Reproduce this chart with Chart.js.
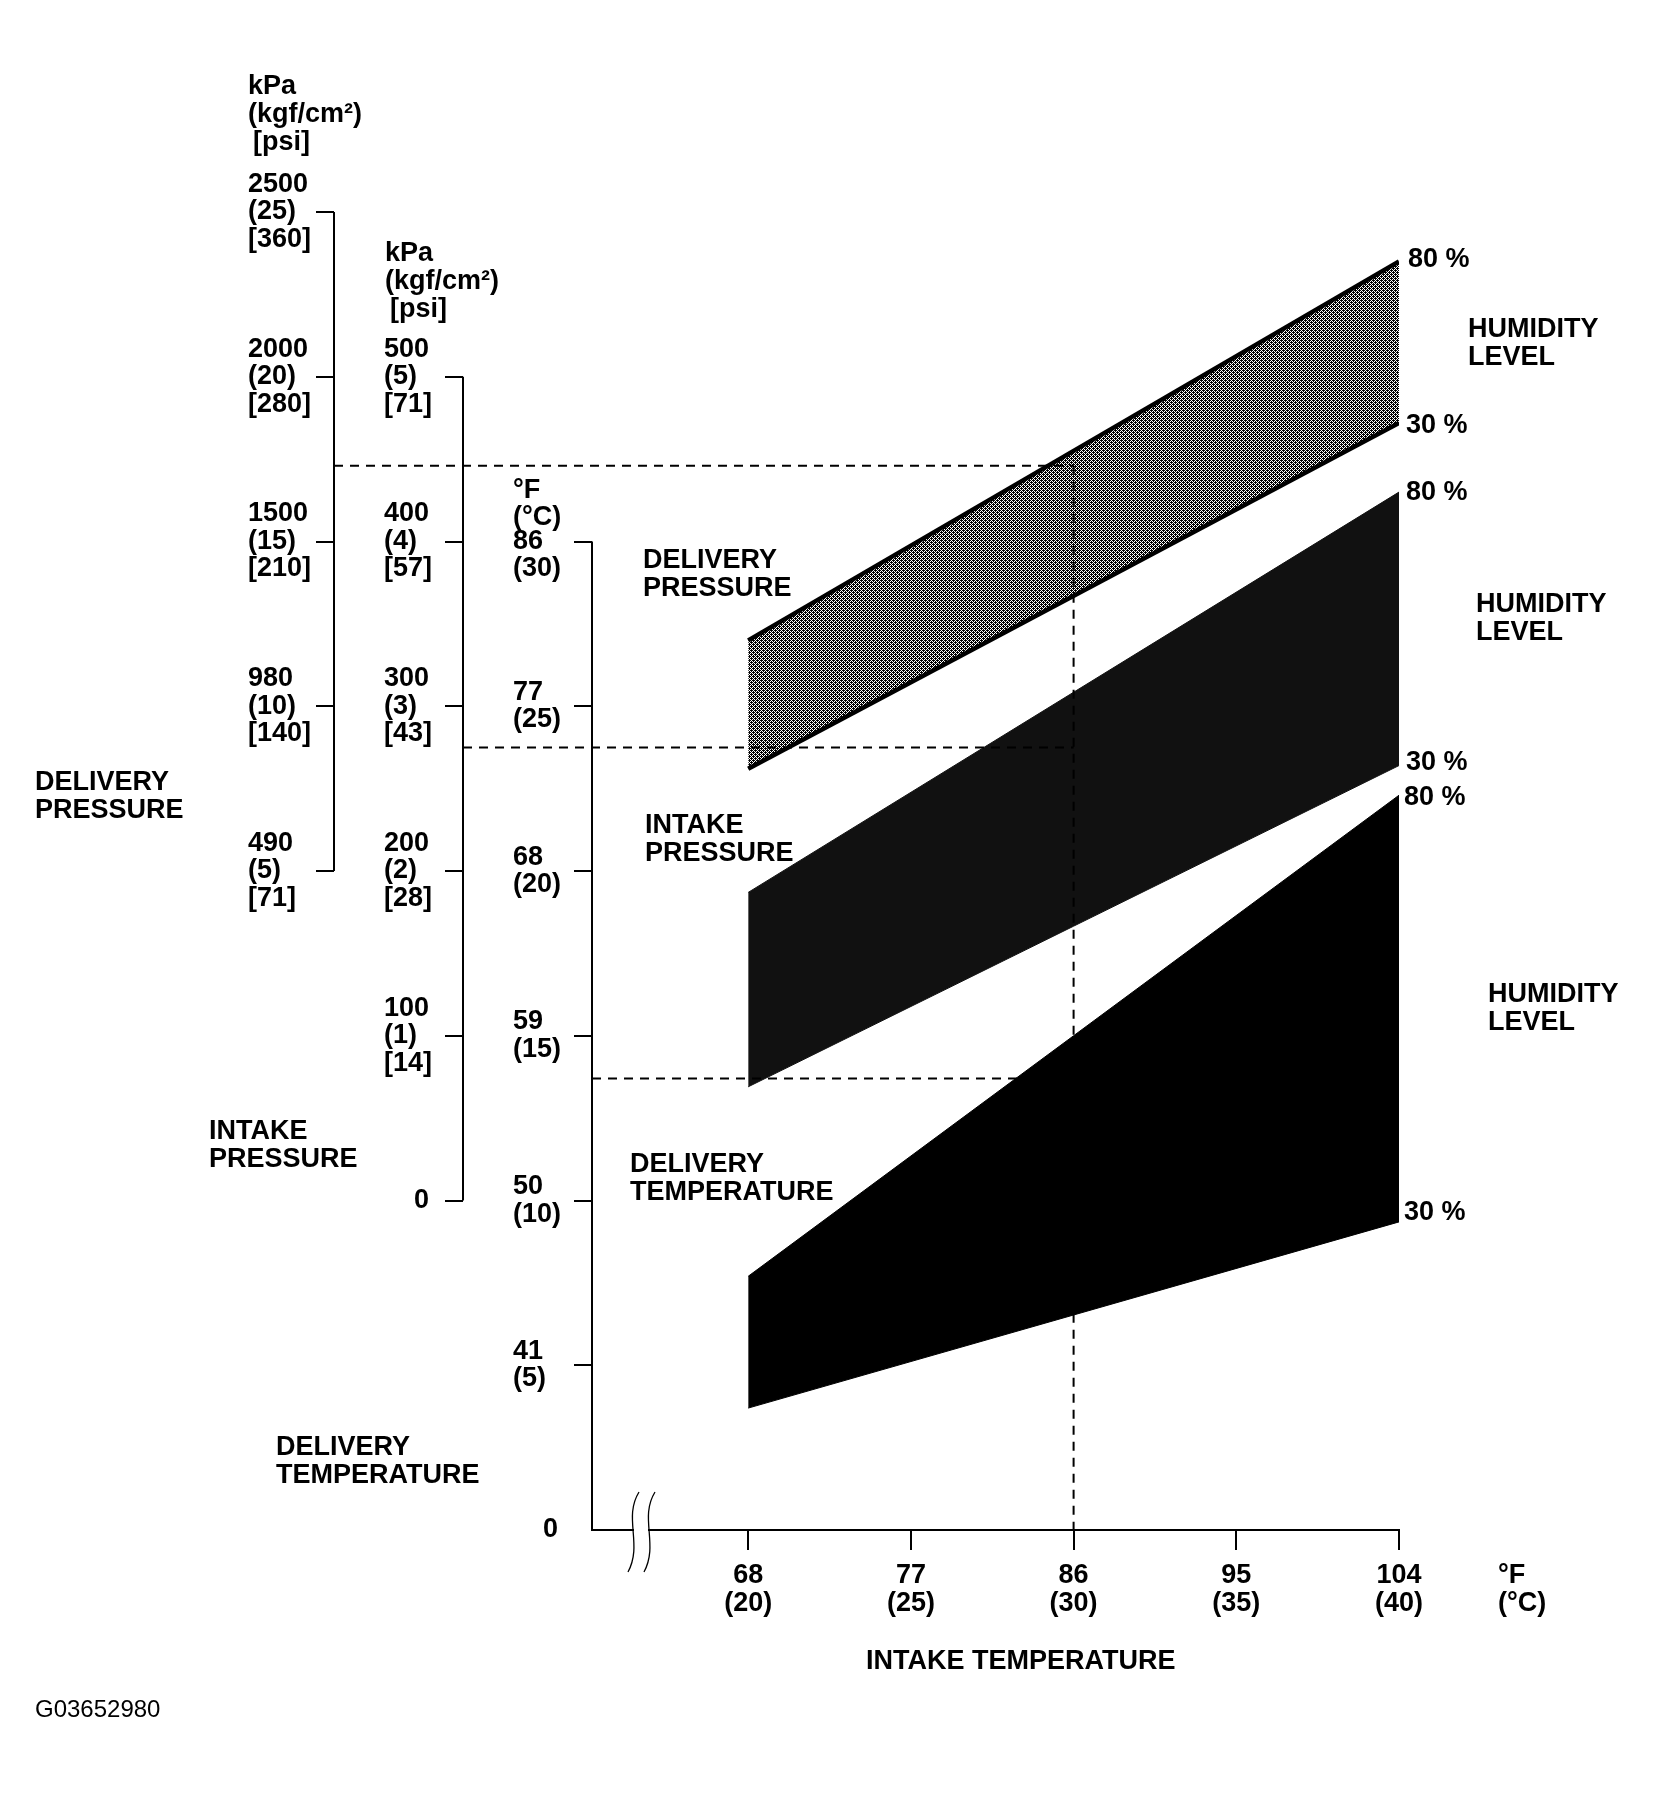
<!DOCTYPE html>
<html>
<head>
<meta charset="utf-8">
<title>Delivery pressure / intake pressure / delivery temperature vs intake temperature</title>
<script src="https://cdn.jsdelivr.net/npm/chart.js@4.4.1/dist/chart.umd.min.js"></script>
<style>
  html, body { margin: 0; padding: 0; background: #fff; }
  canvas { display: block; }
</style>
</head>
<body>
<canvas id="chart" width="1664" height="1793"></canvas>
<script>
// intake temperature (°C) where the bands start and end
const bandTempsC = [20, 40];

// delivery pressure band, kgf/cm2 (axis is also labelled in kPa and psi)
const deliveryPressure80 = [12.0, 23.5];
const deliveryPressure30 = [8.1, 18.6];

// intake pressure band, kPa
const intakePressure80 = [187, 430];
const intakePressure30 = [69, 264];

// delivery temperature band, °C
const deliveryTemp80 = [7.7, 22.3];
const deliveryTemp30 = [3.7, 9.35];

// example reading shown with dashed lines
const exampleIntakeTempC = 30;
const exampleDeliveryPressure = 17.3; // kgf/cm2
const exampleIntakePressure = 275;    // kPa
const exampleDeliveryTempC = 13.7;

// x axis: intake temperature
const intakeTempC = [20, 25, 30, 35, 40];
const intakeTempF = ['68', '77', '86', '95', '104'];

// delivery pressure axis
const deliveryTickKgf = [5, 10, 15, 20, 25];
const deliveryTickKpa = ['490', '980', '1500', '2000', '2500'];
const deliveryTickPsi = ['71', '140', '210', '280', '360'];

// intake pressure axis
const intakeTickKpa = [0, 100, 200, 300, 400, 500];
const intakeTickKgf = ['0', '1', '2', '3', '4', '5'];
const intakeTickPsi = ['0', '14', '28', '43', '57', '71'];

// delivery temperature axis
const tempTickC = [0, 5, 10, 15, 20, 25, 30];
const tempTickF = ['0', '41', '50', '59', '68', '77', '86'];

const FONT = '"Liberation Sans", Arial, Helvetica, sans-serif';
const tickFont = { family: FONT, size: 27, weight: 'bold', lineHeight: 1.02 };

// halftone grey like the printed band
function stipple() {
  const c = document.createElement('canvas');
  c.width = 4; c.height = 4;
  const g = c.getContext('2d');
  g.fillStyle = '#fff';
  g.fillRect(0, 0, 4, 4);
  g.fillStyle = '#000';
  for (let y = 0; y < 4; y++) {
    for (let x = 0; x < 4; x++) {
      if ((x + y) % 2 === 0) g.fillRect(x, y, 1, 1);
    }
  }
  g.fillRect(1, 0, 1, 1);
  g.fillRect(3, 2, 1, 1);
  return g.createPattern(c, 'repeat');
}

function pts(vals) {
  return bandTempsC.map((x, i) => ({ x: x, y: vals[i] }));
}

function leftAxis(weight, width, min, max, tickVals, labelFn, extra) {
  return Object.assign({
    type: 'linear',
    position: 'left',
    weight: weight,
    min: min,
    max: max,
    afterBuildTicks: s => { s.ticks = tickVals.map(v => ({ value: v })); },
    afterFit: s => { s.width = width; },
    border: { display: false },
    grid: { drawOnChartArea: false, drawTicks: true, tickLength: 18, lineWidth: 2, color: '#000' },
    ticks: { crossAlign: 'far', autoSkip: false, color: '#000', font: tickFont, callback: labelFn }
  }, extra || {});
}

function spacer(weight, width) {
  return {
    type: 'linear', position: 'left', weight: weight, min: 0, max: 1,
    afterFit: s => { s.width = width; },
    border: { display: false },
    grid: { display: false },
    ticks: { display: false }
  };
}

function textLines(ctx, arr, x, y, lh) {
  arr.forEach((t, i) => ctx.fillText(t, x, y + i * lh));
}

const extras = {
  id: 'extras',
  afterDatasetsDraw(chart) {
    const { ctx, chartArea, scales } = chart;
    const xr = scales.x.getPixelForValue(exampleIntakeTempC);
    const y1 = scales.yDel.getPixelForValue(exampleDeliveryPressure);
    const y2 = scales.yIn.getPixelForValue(exampleIntakePressure);
    const y3 = scales.yT.getPixelForValue(exampleDeliveryTempC);
    ctx.save();
    ctx.strokeStyle = '#000';
    ctx.lineWidth = 2;
    ctx.setLineDash([9, 7]);
    ctx.beginPath();
    ctx.moveTo(scales.yDel.right, y1); ctx.lineTo(xr, y1);
    ctx.moveTo(scales.yIn.right, y2); ctx.lineTo(xr, y2);
    ctx.moveTo(scales.yT.right, y3); ctx.lineTo(xr, y3);
    ctx.moveTo(xr, y1); ctx.lineTo(xr, chartArea.bottom);
    ctx.stroke();
    ctx.restore();
  },
  afterDraw(chart) {
    const { ctx, chartArea, scales } = chart;
    const x = scales.x, yDel = scales.yDel, yIn = scales.yIn, yT = scales.yT;
    ctx.save();

    // axis spines only between first and last tick
    ctx.strokeStyle = '#000';
    ctx.lineWidth = 2;
    ctx.beginPath();
    ctx.moveTo(yDel.right, yDel.getPixelForValue(25));
    ctx.lineTo(yDel.right, yDel.getPixelForValue(5));
    ctx.moveTo(yIn.right, yIn.getPixelForValue(500));
    ctx.lineTo(yIn.right, yIn.getPixelForValue(0));
    ctx.moveTo(yT.right, yT.getPixelForValue(30));
    ctx.lineTo(yT.right, chartArea.bottom + 1);
    ctx.stroke();

    // axis break on the x axis
    const bx = chartArea.left + 49, by = chartArea.bottom;
    ctx.fillStyle = '#fff';
    ctx.fillRect(bx - 7, by - 3, 14, 6);
    ctx.lineWidth = 1.3;
    [bx - 8, bx + 8].forEach(cx => {
      ctx.beginPath();
      ctx.moveTo(cx + 6, by - 38);
      ctx.bezierCurveTo(cx - 10, by - 12, cx + 10, by + 14, cx - 5, by + 42);
      ctx.stroke();
    });

    // texts
    ctx.fillStyle = '#000';
    ctx.textBaseline = 'middle';
    ctx.textAlign = 'left';
    ctx.font = 'bold 27px ' + FONT;
    const lh = 27.5;

    const topDel = yDel.getPixelForValue(25);
    textLines(ctx, ['kPa', '(kgf/cm²)'], yDel.left, topDel - 125, lh);
    ctx.fillText('[psi]', yDel.left + 5, topDel - 69);
    const topIn = yIn.getPixelForValue(500);
    textLines(ctx, ['kPa', '(kgf/cm²)'], yIn.left + 1, topIn - 123, lh);
    ctx.fillText('[psi]', yIn.left + 6, topIn - 67);
    const topT = yT.getPixelForValue(30);
    textLines(ctx, ['°F', '(°C)'], yT.left, topT - 51, lh);

    textLines(ctx, ['DELIVERY', 'PRESSURE'], 35, 783, lh);
    textLines(ctx, ['INTAKE', 'PRESSURE'], 209, 1132, lh);
    textLines(ctx, ['DELIVERY', 'TEMPERATURE'], 276, 1448, lh);

    textLines(ctx, ['DELIVERY', 'PRESSURE'], 643, 561, lh);
    textLines(ctx, ['INTAKE', 'PRESSURE'], 645, 826, lh);
    textLines(ctx, ['DELIVERY', 'TEMPERATURE'], 630, 1165, lh);

    const rx = x.getPixelForValue(40) + 9;
    ctx.fillText('80 %', rx, yDel.getPixelForValue(deliveryPressure80[1]) - 2);
    ctx.fillText('30 %', rx - 2, yDel.getPixelForValue(deliveryPressure30[1]) + 3);
    ctx.fillText('80 %', rx - 2, yIn.getPixelForValue(intakePressure80[1]));
    ctx.fillText('30 %', rx - 2, yIn.getPixelForValue(intakePressure30[1]) - 3);
    ctx.fillText('80 %', rx - 4, yT.getPixelForValue(deliveryTemp80[1]) + 2);
    ctx.fillText('30 %', rx - 4, yT.getPixelForValue(deliveryTemp30[1]) - 9);

    textLines(ctx, ['HUMIDITY', 'LEVEL'], 1468, 330, lh);
    textLines(ctx, ['HUMIDITY', 'LEVEL'], 1476, 605, lh);
    textLines(ctx, ['HUMIDITY', 'LEVEL'], 1488, 995, lh);

    textLines(ctx, ['°F', '(°C)'], 1498, 1576, lh);
    ctx.fillText('INTAKE TEMPERATURE', 866, 1662);

    ctx.font = '24px ' + FONT;
    ctx.fillText('G03652980', 35, 1710);
    ctx.restore();
  }
};

const grey = stipple();

// order: fills (order 1) are drawn first, the 30 % edge lines (order 0) on top
new Chart(document.getElementById('chart'), {
  type: 'line',
  data: {
    datasets: [
      { label: 'Delivery pressure 80 %', yAxisID: 'yDel', data: pts(deliveryPressure80), order: 1,
        borderColor: '#000', borderWidth: 4.5, backgroundColor: grey, fill: '+1' },
      { label: 'Delivery pressure 30 %', yAxisID: 'yDel', data: pts(deliveryPressure30), order: 0,
        borderColor: '#000', borderWidth: 4.5, fill: false },
      { label: 'Intake pressure 80 %', yAxisID: 'yIn', data: pts(intakePressure80), order: 1,
        borderColor: '#111', borderWidth: 1, backgroundColor: '#111', fill: '+1' },
      { label: 'Intake pressure 30 %', yAxisID: 'yIn', data: pts(intakePressure30), order: 0,
        borderColor: '#111', borderWidth: 1, fill: false },
      { label: 'Delivery temperature 80 %', yAxisID: 'yT', data: pts(deliveryTemp80), order: 1,
        borderColor: '#000', borderWidth: 1, backgroundColor: '#000', fill: '+1' },
      { label: 'Delivery temperature 30 %', yAxisID: 'yT', data: pts(deliveryTemp30), order: 0,
        borderColor: '#000', borderWidth: 1, fill: false }
    ]
  },
  options: {
    responsive: false,
    animation: false,
    devicePixelRatio: 1,
    events: [],
    elements: { point: { radius: 0 }, line: { tension: 0 } },
    layout: { padding: { left: 248, right: 265, top: 212, bottom: 163 } },
    plugins: { legend: { display: false }, tooltip: { enabled: false } },
    scales: {
      x: {
        type: 'linear',
        position: 'bottom',
        min: 15.2,
        max: 40,
        afterBuildTicks: s => { s.ticks = intakeTempC.map(v => ({ value: v })); },
        afterFit: s => { s.height = 100; },
        border: { display: true, color: '#000', width: 2 },
        grid: { drawOnChartArea: false, drawTicks: true, tickLength: 20, lineWidth: 2, color: '#000' },
        ticks: {
          padding: 12, autoSkip: false, maxRotation: 0, color: '#000', font: tickFont,
          callback: v => [intakeTempF[intakeTempC.indexOf(v)], '(' + v + ')']
        }
      },
      yDel: leftAxis(4, 86, -15, 25, deliveryTickKgf, v => {
        const i = deliveryTickKgf.indexOf(v);
        return [deliveryTickKpa[i], '(' + v + ')', '[' + deliveryTickPsi[i] + ']'];
      }),
      sp1: spacer(3, 50),
      yIn: leftAxis(2, 79, -200, 600, intakeTickKpa, v => {
        const i = intakeTickKpa.indexOf(v);
        if (v === 0) return '    0';
        return [String(v), '(' + intakeTickKgf[i] + ')', '[' + intakeTickPsi[i] + ']'];
      }),
      sp2: spacer(1, 50),
      yT: leftAxis(0, 79, 0, 40, tempTickC, v => {
        const i = tempTickC.indexOf(v);
        if (v === 0) return '    0';
        if (v === 30) return ['', tempTickF[i], '(' + v + ')'];
        return [tempTickF[i], '(' + v + ')'];
      }, {
        grid: {
          drawOnChartArea: false, drawTicks: true, tickLength: 18, lineWidth: 2,
          color: c => (c.tick && c.tick.value === 0) ? 'rgba(0,0,0,0)' : '#000'
        }
      })
    }
  },
  plugins: [extras]
});
</script>
</body>
</html>
